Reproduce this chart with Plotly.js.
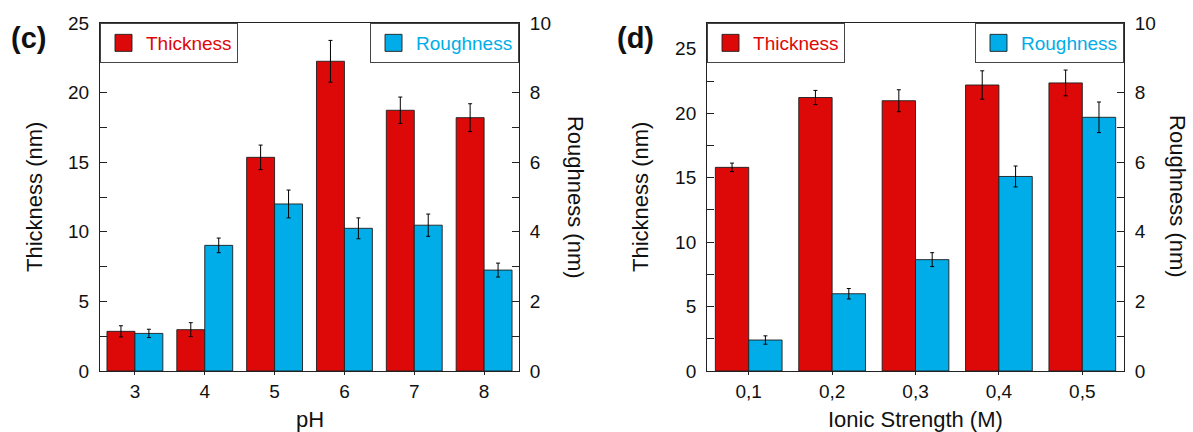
<!DOCTYPE html>
<html>
<head>
<meta charset="utf-8">
<script src="https://cdn.plot.ly/plotly-3.0.1.min.js"></script>
<style>html,body{margin:0;padding:0;background:#fff;}#chart{width:1193px;height:432px;}</style>
</head>
<body>
<div id="chart"></div>
<script>
// ---- data ----
const pH = ['3', '4', '5', '6', '7', '8'];
const thicknessPH = [2.85, 2.97, 15.35, 22.25, 18.73, 18.2];
const thicknessPHErr = [0.4, 0.5, 0.88, 1.5, 0.95, 1.0];
const roughnessPH = [1.08, 3.61, 4.80, 4.10, 4.19, 2.90];
const roughnessPHErr = [0.12, 0.21, 0.40, 0.30, 0.32, 0.20];

const ionicStrength = ['0,1', '0,2', '0,3', '0,4', '0,5'];
const thicknessIS = [15.8, 21.22, 20.97, 22.19, 22.35];
const thicknessISErr = [0.33, 0.55, 0.85, 1.1, 1.0];
const roughnessIS = [0.89, 2.22, 3.2, 5.59, 7.29];
const roughnessISErr = [0.12, 0.15, 0.2, 0.3, 0.44];

// ---- styling ----
const RED = '#DD0808';
const BLUE = '#00ADE8';
const FONT = 'Liberation Sans, Arial, Helvetica, sans-serif';
const AX = '#222';

function bar(x, y, err, color, xa, ya, name, legend, offset) {
  return {
    type: 'bar', x: x, y: y, name: name, legend: legend,
    xaxis: xa, yaxis: ya, width: 0.4, offset: offset,
    marker: {color: color, line: {color: 'rgba(30,30,30,0.9)', width: 1}},
    error_y: {type: 'data', array: err, visible: true, color: '#000', thickness: 1, width: 2}
  };
}

const data = [
  bar(pH, thicknessPH, thicknessPHErr, RED, 'x', 'y', 'Thickness', 'legend', -0.4),
  bar(pH, roughnessPH, roughnessPHErr, BLUE, 'x', 'y2', 'Roughness', 'legend2', 0),
  bar(ionicStrength, thicknessIS, thicknessISErr, RED, 'x2', 'y3', 'Thickness', 'legend3', -0.4),
  bar(ionicStrength, roughnessIS, roughnessISErr, BLUE, 'x2', 'y4', 'Roughness', 'legend4', 0)
];

const xBase = {
  type: 'category', showline: true, linecolor: AX, linewidth: 1, mirror: true,
  ticks: 'outside', ticklen: 3, tickcolor: AX, showgrid: false, zeroline: false,
  tickfont: {family: FONT, size: 19, color: '#111'}, fixedrange: true
};
function yBase(range, dtick, minor, side) {
  return {
    range: range, dtick: dtick, tick0: 0, showline: true, linecolor: AX, linewidth: 1,
    ticks: 'inside', ticklen: 7, tickcolor: AX, showgrid: false, zeroline: false,
    minor: {dtick: minor, tick0: 0, ticks: 'inside', ticklen: 7, tickcolor: AX, showgrid: false},
    tickfont: {family: FONT, size: 19, color: '#111'}, side: side,
    ticklabelstandoff: 6, fixedrange: true
  };
}
function legendBox(x, xanchor, color) {
  return {
    x: x, xanchor: xanchor, y: 1, yanchor: 'top', bgcolor: '#fff',
    bordercolor: '#444', borderwidth: 1, itemwidth: 35,
    font: {family: FONT, size: 19, color: color}
  };
}

const titleFont = {family: FONT, size: 22, color: '#111'};
function ann(text, x, y, angle, extra) {
  return Object.assign({
    text: text, xref: 'paper', yref: 'paper', x: x, y: y, showarrow: false,
    xanchor: 'center', yanchor: 'middle', textangle: angle, font: titleFont
  }, extra || {});
}

const layout = {
  width: 1193, height: 432,
  margin: {l: 100, r: 69, t: 23, b: 61},
  paper_bgcolor: '#fff', plot_bgcolor: '#fff',
  barmode: 'overlay', showlegend: true,
  font: {family: FONT},
  xaxis: Object.assign({}, xBase, {domain: [0, 0.4092], anchor: 'y'}),
  yaxis: Object.assign(yBase([0, 25], 5, 2.5, 'left'), {anchor: 'x'}),
  yaxis2: Object.assign(yBase([0, 10], 2, 1, 'right'), {anchor: 'x', overlaying: 'y'}),
  xaxis2: Object.assign({}, xBase, {domain: [0.5928, 1], anchor: 'y3'}),
  yaxis3: Object.assign(yBase([0, 27], 5, 2.5, 'left'), {anchor: 'x2'}),
  yaxis4: Object.assign(yBase([0, 10], 2, 1, 'right'), {anchor: 'x2', overlaying: 'y3'}),
  legend: legendBox(0, 'left', RED),
  legend2: legendBox(0.4092, 'right', BLUE),
  legend3: legendBox(0.5928, 'left', RED),
  legend4: legendBox(1, 'right', BLUE),
  annotations: [
    ann('<b>(c)</b>', -0.0703, 0.957, 0, {font: {family: FONT, size: 29, color: '#111'}}),
    ann('<b>(d)</b>', 0.5225, 0.957, 0, {font: {family: FONT, size: 29, color: '#111'}}),
    ann('Thickness (nm)', -0.0645, 0.5, -90),
    ann('Roughness (nm)', 0.4649, 0.5, 90),
    ann('pH', 0.2046, -0.138, 0),
    ann('Thickness (nm)', 0.5273, 0.5, -90),
    ann('Roughness (nm)', 1.0527, 0.5, 90),
    ann('Ionic Strength (M)', 0.7964, -0.138, 0)
  ]
};

Plotly.newPlot('chart', data, layout, {staticPlot: true, displayModeBar: false}).then(function (gd) {
  // enlarge the legend swatches to match the reference's bigger squares
  gd.querySelectorAll('.legendpoints path').forEach(function (p) {
    p.setAttribute('d', 'M8.5,8.5H-8.5V-8.5H8.5Z');
  });
});
</script>
</body>
</html>
